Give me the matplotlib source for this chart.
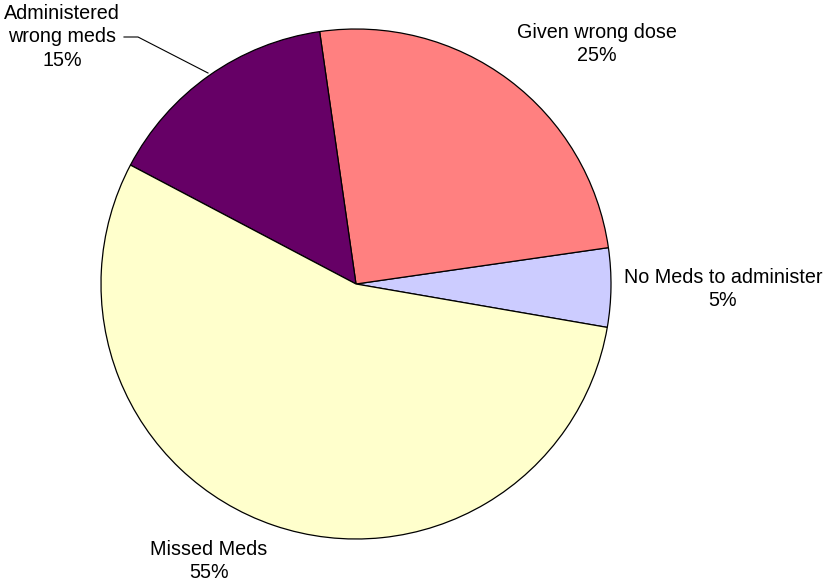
import matplotlib
matplotlib.use("Agg")
import matplotlib.pyplot as plt

labels = ["No Meds to administer", "Given wrong dose", "Administered\nwrong meds", "Missed Meds"]
values = [5, 25, 15, 55]
colors = ["#CCCCFF", "#FF8080", "#660066", "#FFFFCC"]

plt.rcParams["font.family"] = ["Liberation Sans", "DejaVu Sans"]

W, H = 825, 585
fig = plt.figure(figsize=(W / 100, H / 100), dpi=100)
ax = fig.add_axes([0, 0, 1, 1])

cx, cy, r = 356, H - 284, 255
ax.pie(values, colors=colors, startangle=-9.8, counterclock=True,
       center=(cx, cy), radius=r, frame=True,
       wedgeprops=dict(edgecolor="black", linewidth=0.9))
ax.set_xlim(0, W)
ax.set_ylim(0, H)
ax.set_aspect("equal")
ax.axis("off")

# label placement in pixel coords (top-left origin)
label_pos = [(723, 289), (597, 44), (62, 37), (209, 561)]
total = sum(values)
for lab, v, (x, y) in zip(labels, values, label_pos):
    ax.text(x, H - y, f"{lab}\n{round(100 * v / total)}%", ha="center", va="center",
            fontsize=14.2, linespacing=1.3, color="black")

# leader line for the small label
ax.plot([124, 138, 208], [H - 37, H - 37, H - 73], color="black", lw=0.8)

fig.savefig("out.png", dpi=100)
